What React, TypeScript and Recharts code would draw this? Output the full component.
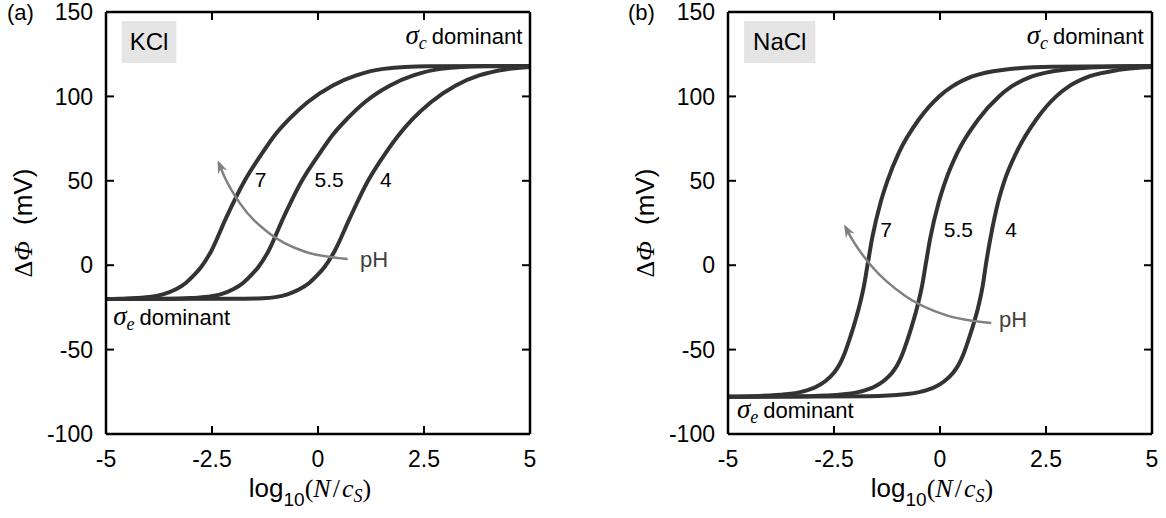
import React from 'react';
import { LineChart, Line, XAxis, YAxis, ReferenceArea, ReferenceDot } from 'recharts';

const FONT = '"Liberation Sans", Arial, Helvetica, sans-serif';
const SERIF = '"Liberation Serif", "DejaVu Serif", "Times New Roman", serif';
const CURVE = '#333333';
const ARROW = '#808080';

const xTicks = [-5, -2.5, 0, 2.5, 5];
const yTicks = [-100, -50, 0, 50, 100, 150];
const phValues = ['7', '5.5', '4'];

// (a) KCl as [log10(N/cS), dPhi in mV]
const kclPh7 = [
    [-5, -20], [-4.5, -19.7], [-3.98, -18.9], [-3.66, -17.3], [-3.35, -14.3], [-3.11, -10.4],
    [-2.91, -5.5], [-2.76, -1.2], [-2.52, 8.3], [-2.17, 27.9], [-1.73, 50], [-1.3, 67],
    [-1.02, 77], [-0.67, 86.8], [-0.24, 96.7], [0.35, 106.5], [0.9, 112.4], [1.54, 116.3],
    [2.6, 117.8], [5, 118],
];
const kclPh55 = [
    [-5, -20], [-3.5, -19.9], [-3, -19.5], [-2.6, -18.7], [-2.3, -17.3], [-2.0, -14.3],
    [-1.76, -10.4], [-1.56, -5.5], [-1.41, -1.2], [-1.17, 8.3], [-0.82, 27.9], [-0.38, 50],
    [0.06, 67], [0.34, 77], [0.69, 86.8], [1.11, 96.7], [1.7, 106.5], [2.25, 112.4],
    [2.9, 116.3], [3.95, 117.8], [5, 118],
];
const kclPh4 = [
    [-5, -20], [-2, -19.9], [-1.3, -19.6], [-1.0, -18.9], [-0.72, -17.3], [-0.44, -14.3],
    [-0.2, -10.4], [0.0, -5.5], [0.15, -1.2], [0.39, 8.3], [0.75, 27.9], [1.18, 50],
    [1.61, 67], [1.9, 77], [2.24, 86.8], [2.67, 96.7], [3.25, 106.5], [3.8, 112.4],
    [4.45, 116.1], [5, 117.4],
];

// (b) NaCl
const naclPh7 = [
    [-5, -78], [-4.43, -77.6], [-3.64, -76.5], [-3.25, -74.9], [-2.93, -72.2], [-2.7, -68.6],
    [-2.5, -63.7], [-2.37, -58.8], [-2.26, -52.9], [-2.15, -45.1], [-2.04, -36.5],
    [-1.92, -26], [-1.79, -11.8], [-1.71, 0], [-1.6, 16], [-1.4, 37.3], [-1.24, 50],
    [-0.97, 66.7], [-0.5, 86.3], [-0.02, 100], [0.29, 105.9], [0.76, 111.8], [1.47, 115.7],
    [2.65, 117.5], [5, 118],
];
const naclPh55 = [
    [-5, -78], [-3.1, -77.6], [-2.27, -76.5], [-1.88, -74.9], [-1.56, -72.2], [-1.33, -68.6],
    [-1.13, -63.7], [-1.0, -58.8], [-0.89, -52.9], [-0.78, -45.1], [-0.67, -36.5],
    [-0.55, -26], [-0.42, -11.8], [-0.34, 0], [-0.23, 16], [-0.03, 37.3], [0.13, 50],
    [0.41, 66.7], [0.9, 86.3], [1.39, 100], [1.69, 105.9], [2.17, 111.8], [2.88, 115.7],
    [4.0, 117.5], [5, 118],
];
const naclPh4 = [
    [-5, -78], [-1.67, -77.6], [-0.83, -76.5], [-0.44, -74.9], [-0.12, -72.2], [0.11, -68.6],
    [0.31, -63.7], [0.44, -58.8], [0.55, -52.9], [0.66, -45.1], [0.77, -36.5],
    [0.89, -26], [1.01, -11.8], [1.08, 0], [1.19, 16], [1.37, 37.3], [1.52, 50],
    [1.8, 66.7], [2.27, 86.3], [2.74, 100], [3.04, 105.9], [3.52, 111.8], [4.22, 115.7],
    [5, 117.4],
];

// grey "pH" arrows, head first
const kclArrow = [[-2.34, 60.5], [-2.2, 52.1], [-1.84, 36.6], [-1.16, 19.1], [-0.32, 8.1], [0.7, 3.7]];
const naclArrow = [[-2.23, 22.6], [-2.05, 14.4], [-1.6, -0.95], [-0.82, -18.2], [0.12, -29.4], [1.21, -34.2]];

const pts = (a: number[][]) => a.map(([x, y]) => ({ x, y }));

const TICK_LEN = 8;
const X_GAP = 17;
const Y_GAP = 13;

function note(key: string, x: number, y: number, draw: (cx: number, cy: number) => React.ReactNode) {
    return (
        <ReferenceDot
            key={key}
            xAxisId="main"
            yAxisId="main"
            x={x}
            y={y}
            r={0}
            fill="none"
            stroke="none"
            label={(p: any) => {
                const vb = p.viewBox || {};
                return draw((vb.x || 0) + (vb.width || 0) / 2, (vb.y || 0) + (vb.height || 0) / 2) as any;
            }}
        />
    );
}

const arrowHead = (p: any) => {
    if (p.index !== 0) return <g key={`ah-${p.index}`} />;
    let ux = -0.39;
    let uy = -0.92;
    const nb = p.points && p.points[1];
    if (nb) {
        const dx = p.cx - nb.x;
        const dy = p.cy - nb.y;
        const len = Math.hypot(dx, dy) || 1;
        ux = dx / len;
        uy = dy / len;
    }
    const tipX = p.cx + ux * 3;
    const tipY = p.cy + uy * 3;
    const bx = p.cx - ux * 10;
    const by = p.cy - uy * 10;
    const nx = -uy * 5;
    const ny = ux * 5;
    return (
        <polygon
            key="ah-0"
            points={`${tipX},${tipY} ${bx + nx},${by + ny} ${p.cx - ux * 6},${p.cy - uy * 6} ${bx - nx},${by - ny}`}
            fill={ARROW}
            stroke="none"
        />
    );
};

function Panel({ left, width, margin, curves, salt, box, arrow, numPos, numY, phPos, highPos, lowPos }: any) {
    const plotTop = margin.top;
    const plotRight = width - margin.right;

    // bottom tick label plus inward ticks on the bottom and top frame
    const xTick = (p: any) => {
        const base = p.y - X_GAP;
        return (
            <g key={`xt-${p.index}`}>
                <line x1={p.x} y1={base} x2={p.x} y2={base - TICK_LEN} stroke="#000" strokeWidth={2} />
                <line x1={p.x} y1={plotTop} x2={p.x} y2={plotTop + TICK_LEN} stroke="#000" strokeWidth={2} />
                <text x={p.x} y={p.y} dy="0.71em" textAnchor="middle" fontSize={23} fill="#000" fontFamily={FONT}>
                    {p.payload.value}
                </text>
            </g>
        );
    };
    // left tick label plus inward ticks on the left and right frame
    const yTick = (p: any) => {
        const base = p.x + Y_GAP;
        return (
            <g key={`yt-${p.index}`}>
                <line x1={base} y1={p.y} x2={base + TICK_LEN} y2={p.y} stroke="#000" strokeWidth={2} />
                <line x1={plotRight} y1={p.y} x2={plotRight - TICK_LEN} y2={p.y} stroke="#000" strokeWidth={2} />
                <text x={p.x} y={p.y} dy="0.355em" textAnchor="end" fontSize={23} fill="#000" fontFamily={FONT}>
                    {p.payload.value}
                </text>
            </g>
        );
    };

    return (
        <div style={{ position: 'absolute', left, top: 0, width, height: 518 }}>
            <LineChart width={width} height={518} margin={margin}>
                <XAxis
                    xAxisId="main"
                    dataKey="x"
                    type="number"
                    domain={[-5, 5]}
                    ticks={xTicks}
                    interval={0}
                    height={30}
                    tickSize={0}
                    tickMargin={X_GAP}
                    tickLine={false}
                    axisLine={{ stroke: '#000', strokeWidth: 2.5 }}
                    tick={xTick}
                    label={(p: any) => {
                        const vb = p.viewBox;
                        const cx = vb.x + vb.width / 2 - 8;
                        const cy = vb.y + 63;
                        return (
                            <text x={cx} y={cy} textAnchor="middle" fill="#000" fontSize={26} fontFamily={FONT}>
                                <tspan>log</tspan>
                                <tspan fontSize={19} dy={9}>10</tspan>
                                <tspan fontFamily={SERIF} dy={-9}>(</tspan>
                                <tspan fontFamily={SERIF} fontStyle="italic">N</tspan>
                                <tspan fontFamily={SERIF} dx={2}>/</tspan>
                                <tspan fontFamily={SERIF} fontStyle="italic" dx={2}>c</tspan>
                                <tspan fontFamily={SERIF} fontStyle="italic" fontSize={18} dy={5}>S</tspan>
                                <tspan fontFamily={SERIF} dy={-5}>)</tspan>
                            </text>
                        ) as any;
                    }}
                />
                <XAxis xAxisId="topm" type="number" domain={[-5, 5]} orientation="top" mirror tick={false} tickLine={false} axisLine={{ stroke: '#000', strokeWidth: 2.5 }} />
                <YAxis
                    yAxisId="main"
                    type="number"
                    domain={[-100, 150]}
                    ticks={yTicks}
                    interval={0}
                    width={60}
                    tickSize={0}
                    tickMargin={Y_GAP}
                    tickLine={false}
                    axisLine={{ stroke: '#000', strokeWidth: 2.5 }}
                    tick={yTick}
                    label={(p: any) => {
                        const vb = p.viewBox;
                        const cx = vb.x - 23;
                        const cy = vb.y + vb.height / 2;
                        return (
                            <text x={cx} y={cy} transform={`rotate(-90, ${cx}, ${cy})`} textAnchor="middle" dominantBaseline="central" fill="#000" fontSize={26} fontFamily={FONT}>
                                <tspan fontFamily={SERIF}>Δ</tspan>
                                <tspan fontFamily={SERIF} fontStyle="italic">Φ</tspan>
                                <tspan dx={16}>(mV)</tspan>
                            </text>
                        ) as any;
                    }}
                />
                <YAxis yAxisId="rightm" type="number" domain={[-100, 150]} orientation="right" mirror tick={false} tickLine={false} axisLine={{ stroke: '#000', strokeWidth: 2.5 }} />

                <ReferenceArea
                    xAxisId="main"
                    yAxisId="main"
                    x1={box[0]}
                    x2={box[1]}
                    y1={119.8}
                    y2={144.7}
                    fill="#e5e5e5"
                    fillOpacity={1}
                    stroke="none"
                    label={{ value: salt, position: 'center', fontSize: 24, fill: '#000', fontFamily: FONT }}
                />

                {curves.map((c: number[][], i: number) => (
                    <Line
                        key={`curve-${i}`}
                        xAxisId="main"
                        yAxisId="main"
                        data={pts(c)}
                        dataKey="y"
                        type="monotone"
                        stroke={CURVE}
                        strokeWidth={4}
                        dot={false}
                        activeDot={false}
                        isAnimationActive={false}
                    />
                ))}
                <Line
                    xAxisId="main"
                    yAxisId="main"
                    data={pts(arrow)}
                    dataKey="y"
                    type="monotone"
                    stroke={ARROW}
                    strokeWidth={2.5}
                    dot={arrowHead}
                    activeDot={false}
                    isAnimationActive={false}
                />

                {phValues.map((v, i) =>
                    note(`ph-${i}`, numPos[i], numY, (cx, cy) => (
                        <text x={cx} y={cy} fontSize={21} fill="#000" fontFamily={FONT}>{v}</text>
                    ))
                )}
                {note('ph', phPos[0], phPos[1], (cx, cy) => (
                    <text x={cx} y={cy} fontSize={22} fill="#404040" fontFamily={FONT}>pH</text>
                ))}
                {note('high', highPos[0], highPos[1], (cx, cy) => (
                    <text x={cx} y={cy} textAnchor="end" fontSize={22} fill="#000" fontFamily={FONT}>
                        <tspan fontFamily={SERIF} fontStyle="italic" fontSize={27}>σ</tspan>
                        <tspan fontFamily={SERIF} fontStyle="italic" fontSize={18} dy={5}>c</tspan>
                        <tspan dy={-5} dx={5}>dominant</tspan>
                    </text>
                ))}
                {note('low', lowPos[0], lowPos[1], (cx, cy) => (
                    <text x={cx} y={cy} fontSize={22} fill="#000" fontFamily={FONT}>
                        <tspan fontFamily={SERIF} fontStyle="italic" fontSize={27}>σ</tspan>
                        <tspan fontFamily={SERIF} fontStyle="italic" fontSize={18} dy={5}>e</tspan>
                        <tspan dy={-5} dx={5}>dominant</tspan>
                    </text>
                ))}
            </LineChart>
        </div>
    );
}

export default function App() {
    return (
        <div style={{ position: 'absolute', left: 0, top: 0, width: 1166, height: 518, background: '#fff' }}>
            <Panel
                left={0}
                width={600}
                margin={{ top: 12, right: 70, bottom: 54, left: 46 }}
                curves={[kclPh7, kclPh55, kclPh4]}
                salt="KCl"
                box={[-4.63, -3.34]}
                arrow={kclArrow}
                numPos={[-1.49, -0.08, 1.46]}
                numY={46.3}
                phPos={[0.99, -1.1]}
                highPos={[4.82, 131]}
                lowPos={[-4.83, -35.4]}
            />
            <Panel
                left={620}
                width={546}
                margin={{ top: 12, right: 14, bottom: 54, left: 48 }}
                curves={[naclPh7, naclPh55, naclPh4]}
                salt="NaCl"
                box={[-4.62, -2.94]}
                arrow={naclArrow}
                numPos={[-1.41, 0.09, 1.54]}
                numY={16.7}
                phPos={[1.39, -36.6]}
                highPos={[4.8, 131]}
                lowPos={[-4.79, -90.5]}
            />
            <svg width={1166} height={518} style={{ position: 'absolute', left: 0, top: 0, pointerEvents: 'none' }}>
                <text x={7} y={20} fontSize={22} fontFamily={FONT} fill="#000">(a)</text>
                <text x={628} y={20} fontSize={22} fontFamily={FONT} fill="#000">(b)</text>
            </svg>
        </div>
    );
}
